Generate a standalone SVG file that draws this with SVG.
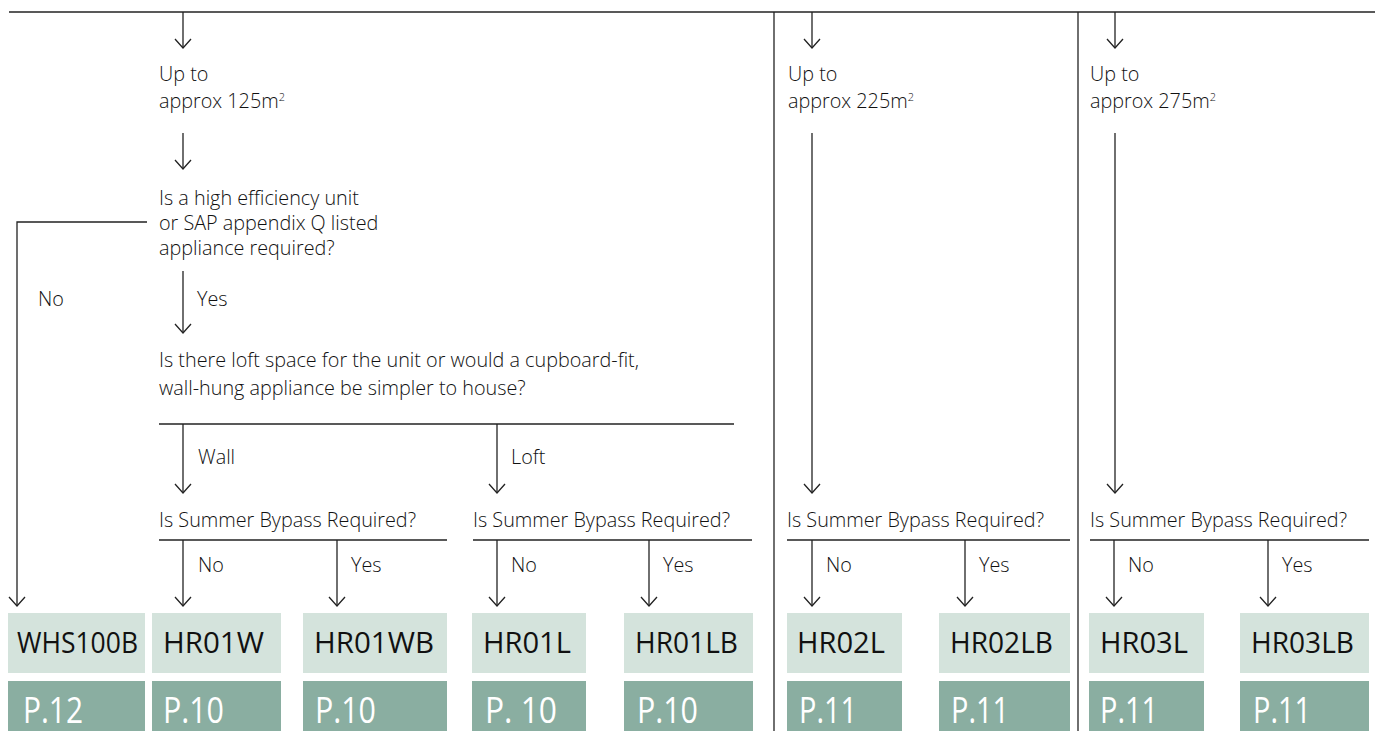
<svg xmlns="http://www.w3.org/2000/svg" width="1375" height="731" viewBox="0 0 1375 731">
<defs>
<style>
.ln{fill:none;stroke:#222;stroke-width:1.3}
.ar{fill:none;stroke:#222;stroke-width:1.3;marker-end:url(#ah)}
.t{font-family:"Open Sans","Noto Sans","Liberation Sans",sans-serif;font-weight:300;font-size:19.8px;fill:#111}
.sup{font-size:11px}
.lb{fill:#d4e3dc}
.db{fill:#8aaea1}
.pt{font-family:"Open Sans","Noto Sans","Liberation Sans",sans-serif;font-size:30px;fill:#111}
.pg{font-family:"Open Sans","Noto Sans","Liberation Sans",sans-serif;font-size:37px;fill:#fff}
</style>
<marker id="ah" markerUnits="userSpaceOnUse" markerWidth="20" markerHeight="20" viewBox="0 0 20 20" refX="10" refY="10" orient="auto" overflow="visible">
<path d="M1,2 L10,10 L1,18" fill="none" stroke="#222" stroke-width="1.3"/>
</marker>
</defs>
<rect width="1375" height="731" fill="#fff"/>
<g id="connectors">
<path class="ln" d="M9,12 H1375"/>
<path class="ln" d="M774,12 V731"/>
<path class="ln" d="M1078,12 V731"/>
<path class="ar" d="M183,12 V48"/>
<path class="ar" d="M812,12 V48"/>
<path class="ar" d="M1115,12 V48"/>
<path class="ar" d="M183,133 V169"/>
<path class="ar" d="M812,133 V493"/>
<path class="ar" d="M1115,133 V493"/>
<path class="ar" d="M147,222 H17 V606"/>
<path class="ar" d="M183,271 V333"/>
<path class="ln" d="M159,424 H734"/>
<path class="ar" d="M183,424 V493"/>
<path class="ar" d="M497,424 V493"/>
<path class="ln" d="M159,540 H447"/>
<path class="ln" d="M473,540 H752"/>
<path class="ln" d="M787,540 H1070"/>
<path class="ln" d="M1090,540 H1369"/>
<path class="ar" d="M183,540 V606"/>
<path class="ar" d="M337,540 V606"/>
<path class="ar" d="M497,540 V606"/>
<path class="ar" d="M649,540 V606"/>
<path class="ar" d="M812,540 V606"/>
<path class="ar" d="M965,540 V606"/>
<path class="ar" d="M1114,540 V606"/>
<path class="ar" d="M1268,540 V606"/>
<text class="t" x="38" y="306">No</text>
<text class="t" x="197" y="306">Yes</text>
<text class="t" x="198" y="464">Wall</text>
<text class="t" x="511" y="464">Loft</text>
<text class="t" x="198" y="572">No</text>
<text class="t" x="351" y="572">Yes</text>
<text class="t" x="511" y="572">No</text>
<text class="t" x="663" y="572">Yes</text>
<text class="t" x="826" y="572">No</text>
<text class="t" x="979" y="572">Yes</text>
<text class="t" x="1128" y="572">No</text>
<text class="t" x="1282" y="572">Yes</text>
</g>
<g id="q-area125">
<text class="t" x="159" y="81">Up to</text>
<text class="t" x="159" y="108">approx 125m<tspan class="sup" dy="-7">2</tspan></text>
</g>
<g id="q-area225">
<text class="t" x="788" y="81">Up to</text>
<text class="t" x="788" y="108">approx 225m<tspan class="sup" dy="-7">2</tspan></text>
</g>
<g id="q-area275">
<text class="t" x="1090" y="81">Up to</text>
<text class="t" x="1090" y="108">approx 275m<tspan class="sup" dy="-7">2</tspan></text>
</g>
<g id="q-efficiency">
<text class="t" x="159" y="205">Is a high efficiency unit</text>
<text class="t" x="159" y="230">or SAP appendix Q listed</text>
<text class="t" x="159" y="255">appliance required?</text>
</g>
<g id="q-location">
<text class="t" x="159" y="367">Is there loft space for the unit or would a cupboard-fit,</text>
<text class="t" x="159" y="395">wall-hung appliance be simpler to house?</text>
</g>
<g id="q-bypass-wall"><text class="t" x="159" y="527">Is Summer Bypass Required?</text></g>
<g id="q-bypass-loft"><text class="t" x="473" y="527">Is Summer Bypass Required?</text></g>
<g id="q-bypass-225"><text class="t" x="787" y="527">Is Summer Bypass Required?</text></g>
<g id="q-bypass-275"><text class="t" x="1090" y="527">Is Summer Bypass Required?</text></g>
<g id="n-whs100b">
<rect class="lb" x="8" y="613" width="137" height="60"/>
<text class="pt" x="17" y="653" textLength="121" lengthAdjust="spacingAndGlyphs">WHS100B</text>
<rect class="db" x="8" y="681" width="137" height="50"/>
<text class="pg" x="23" y="723" textLength="60" lengthAdjust="spacingAndGlyphs">P.12</text>
</g>
<g id="n-hr01w">
<rect class="lb" x="152" y="613" width="129" height="60"/>
<text class="pt" x="163" y="653" textLength="101" lengthAdjust="spacingAndGlyphs">HR01W</text>
<rect class="db" x="152" y="681" width="129" height="50"/>
<text class="pg" x="163" y="723" textLength="61" lengthAdjust="spacingAndGlyphs">P.10</text>
</g>
<g id="n-hr01wb">
<rect class="lb" x="303" y="613" width="144" height="60"/>
<text class="pt" x="314" y="653" textLength="120" lengthAdjust="spacingAndGlyphs">HR01WB</text>
<rect class="db" x="303" y="681" width="144" height="50"/>
<text class="pg" x="315" y="723" textLength="61" lengthAdjust="spacingAndGlyphs">P.10</text>
</g>
<g id="n-hr01l">
<rect class="lb" x="472" y="613" width="114" height="60"/>
<text class="pt" x="483" y="653" textLength="88" lengthAdjust="spacingAndGlyphs">HR01L</text>
<rect class="db" x="472" y="681" width="114" height="50"/>
<text class="pg" x="485" y="723" textLength="72" lengthAdjust="spacingAndGlyphs">P. 10</text>
</g>
<g id="n-hr01lb">
<rect class="lb" x="624" y="613" width="129" height="60"/>
<text class="pt" x="635" y="653" textLength="103" lengthAdjust="spacingAndGlyphs">HR01LB</text>
<rect class="db" x="624" y="681" width="129" height="50"/>
<text class="pg" x="637" y="723" textLength="61" lengthAdjust="spacingAndGlyphs">P.10</text>
</g>
<g id="n-hr02l">
<rect class="lb" x="787" y="613" width="115" height="60"/>
<text class="pt" x="797" y="653" textLength="88" lengthAdjust="spacingAndGlyphs">HR02L</text>
<rect class="db" x="787" y="681" width="115" height="50"/>
<text class="pg" x="799" y="723" textLength="58" lengthAdjust="spacingAndGlyphs">P.11</text>
</g>
<g id="n-hr02lb">
<rect class="lb" x="939" y="613" width="131" height="60"/>
<text class="pt" x="950" y="653" textLength="103" lengthAdjust="spacingAndGlyphs">HR02LB</text>
<rect class="db" x="939" y="681" width="131" height="50"/>
<text class="pg" x="951" y="723" textLength="58" lengthAdjust="spacingAndGlyphs">P.11</text>
</g>
<g id="n-hr03l">
<rect class="lb" x="1089" y="613" width="115" height="60"/>
<text class="pt" x="1100" y="653" textLength="88" lengthAdjust="spacingAndGlyphs">HR03L</text>
<rect class="db" x="1089" y="681" width="115" height="50"/>
<text class="pg" x="1100" y="723" textLength="58" lengthAdjust="spacingAndGlyphs">P.11</text>
</g>
<g id="n-hr03lb">
<rect class="lb" x="1240" y="613" width="129" height="60"/>
<text class="pt" x="1251" y="653" textLength="103" lengthAdjust="spacingAndGlyphs">HR03LB</text>
<rect class="db" x="1240" y="681" width="129" height="50"/>
<text class="pg" x="1253" y="723" textLength="58" lengthAdjust="spacingAndGlyphs">P.11</text>
</g>
</svg>
